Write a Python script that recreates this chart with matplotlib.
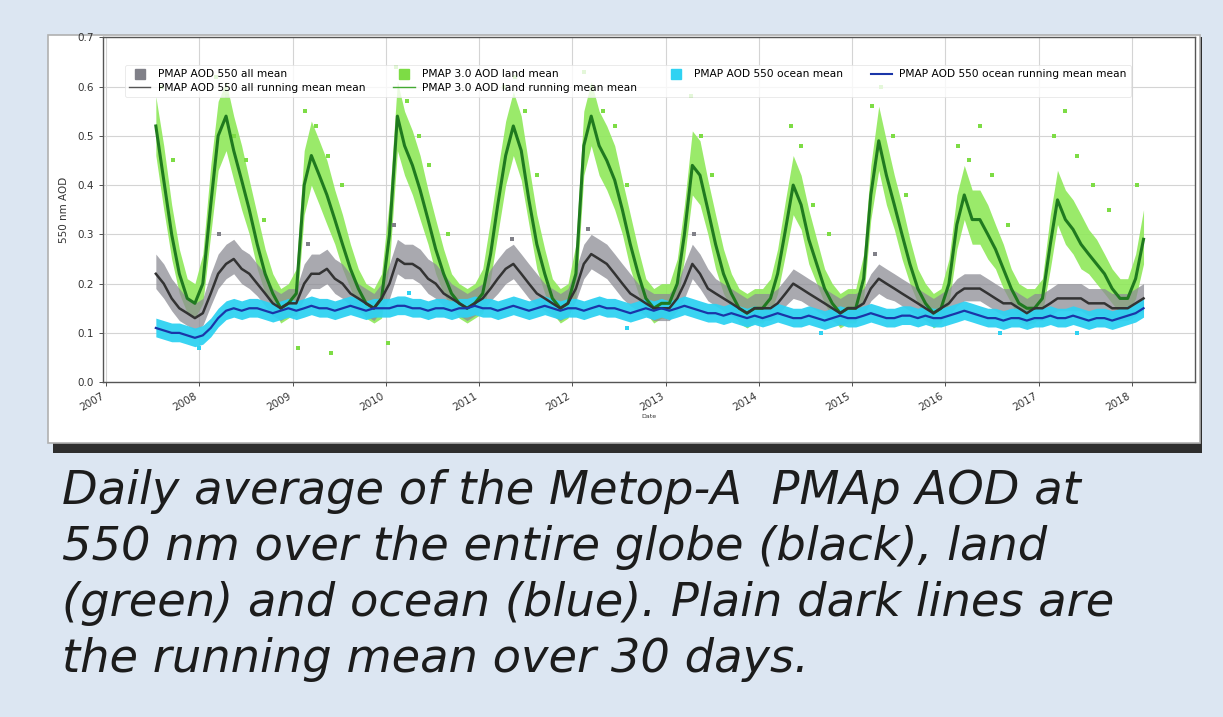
import numpy as np
import pandas as pd
import matplotlib
matplotlib.use("Agg")
import matplotlib.pyplot as plt
import matplotlib.dates as mdates
from matplotlib.patches import Rectangle
from matplotlib.lines import Line2D

# monthly values Jul 2007 .. Feb 2018
months = pd.date_range("2007-07-01", "2018-02-01", freq="MS") + pd.Timedelta(days=14)

land_mean = [0.52, 0.41, 0.30, 0.22, 0.17, 0.16,
             0.20, 0.36, 0.50, 0.54, 0.47, 0.41, 0.35, 0.28, 0.22, 0.18, 0.15, 0.16,
             0.18, 0.40, 0.46, 0.42, 0.38, 0.33, 0.28, 0.23, 0.19, 0.16, 0.15, 0.17,
             0.30, 0.54, 0.48, 0.44, 0.39, 0.33, 0.27, 0.22, 0.18, 0.16, 0.15, 0.16,
             0.18, 0.26, 0.36, 0.46, 0.52, 0.47, 0.37, 0.28, 0.22, 0.17, 0.15, 0.16,
             0.22, 0.48, 0.54, 0.48, 0.45, 0.41, 0.35, 0.28, 0.22, 0.17, 0.15, 0.16,
             0.16, 0.20, 0.30, 0.44, 0.42, 0.35, 0.28, 0.22, 0.18, 0.15, 0.14, 0.15,
             0.15, 0.17, 0.22, 0.31, 0.40, 0.36, 0.29, 0.24, 0.19, 0.16, 0.14, 0.15,
             0.15, 0.21, 0.38, 0.49, 0.42, 0.36, 0.30, 0.24, 0.19, 0.16, 0.14, 0.15,
             0.20, 0.32, 0.38, 0.33, 0.33, 0.30, 0.27, 0.23, 0.19, 0.16, 0.15, 0.15,
             0.17, 0.28, 0.37, 0.33, 0.31, 0.28, 0.26, 0.24, 0.22, 0.19, 0.17, 0.17,
             0.21, 0.29]
land_hi = [0.58, 0.48, 0.36, 0.27, 0.21, 0.20,
           0.26, 0.44, 0.57, 0.61, 0.54, 0.48, 0.41, 0.34, 0.27, 0.22, 0.19, 0.20,
           0.23, 0.47, 0.53, 0.49, 0.45, 0.39, 0.34, 0.28, 0.23, 0.20, 0.19, 0.22,
           0.37, 0.61, 0.55, 0.51, 0.46, 0.39, 0.33, 0.27, 0.22, 0.20, 0.19, 0.20,
           0.23, 0.33, 0.43, 0.53, 0.59, 0.54, 0.44, 0.34, 0.27, 0.21, 0.19, 0.20,
           0.28, 0.55, 0.61, 0.55, 0.52, 0.48, 0.41, 0.34, 0.27, 0.21, 0.19, 0.20,
           0.20, 0.25, 0.36, 0.51, 0.49, 0.41, 0.34, 0.27, 0.22, 0.19, 0.18, 0.19,
           0.19, 0.21, 0.27, 0.37, 0.46, 0.42, 0.35, 0.29, 0.23, 0.20, 0.18, 0.19,
           0.19, 0.26, 0.44, 0.56, 0.49, 0.42, 0.36, 0.29, 0.23, 0.20, 0.18, 0.19,
           0.25, 0.38, 0.44, 0.39, 0.39, 0.36, 0.32, 0.28, 0.23, 0.20, 0.19, 0.19,
           0.21, 0.34, 0.43, 0.39, 0.37, 0.34, 0.31, 0.29, 0.26, 0.23, 0.21, 0.21,
           0.26, 0.35]
land_lo = [0.46, 0.35, 0.25, 0.18, 0.14, 0.13,
           0.16, 0.30, 0.43, 0.47, 0.41, 0.35, 0.30, 0.23, 0.18, 0.15, 0.12, 0.13,
           0.14, 0.34, 0.40, 0.36, 0.32, 0.28, 0.23, 0.19, 0.15, 0.13, 0.12, 0.13,
           0.24, 0.47, 0.42, 0.38, 0.33, 0.28, 0.22, 0.18, 0.15, 0.13, 0.12, 0.13,
           0.14, 0.21, 0.30, 0.40, 0.46, 0.41, 0.32, 0.23, 0.18, 0.14, 0.12, 0.13,
           0.17, 0.42, 0.48, 0.42, 0.39, 0.35, 0.30, 0.23, 0.18, 0.14, 0.12, 0.13,
           0.13, 0.16, 0.25, 0.38, 0.36, 0.30, 0.23, 0.18, 0.15, 0.12, 0.11, 0.12,
           0.12, 0.14, 0.18, 0.26, 0.34, 0.31, 0.24, 0.20, 0.16, 0.13, 0.11, 0.12,
           0.12, 0.17, 0.33, 0.43, 0.36, 0.31, 0.25, 0.20, 0.16, 0.13, 0.11, 0.12,
           0.16, 0.27, 0.33, 0.28, 0.28, 0.25, 0.23, 0.19, 0.16, 0.13, 0.12, 0.12,
           0.14, 0.23, 0.32, 0.28, 0.26, 0.23, 0.22, 0.20, 0.18, 0.16, 0.14, 0.14,
           0.17, 0.24]

all_mean = [0.22, 0.20, 0.17, 0.15, 0.14, 0.13,
            0.14, 0.18, 0.22, 0.24, 0.25, 0.23, 0.22, 0.20, 0.18, 0.16, 0.15, 0.16,
            0.16, 0.20, 0.22, 0.22, 0.23, 0.21, 0.20, 0.18, 0.17, 0.16, 0.15, 0.17,
            0.20, 0.25, 0.24, 0.24, 0.23, 0.21, 0.20, 0.18, 0.17, 0.16, 0.15, 0.16,
            0.17, 0.19, 0.21, 0.23, 0.24, 0.22, 0.20, 0.18, 0.17, 0.16, 0.15, 0.16,
            0.19, 0.24, 0.26, 0.25, 0.24, 0.22, 0.20, 0.18, 0.17, 0.16, 0.15, 0.15,
            0.15, 0.17, 0.20, 0.24, 0.22, 0.19, 0.18, 0.17, 0.16, 0.15, 0.14, 0.15,
            0.15, 0.15, 0.16, 0.18, 0.20, 0.19, 0.18, 0.17, 0.16, 0.15, 0.14, 0.15,
            0.15, 0.16, 0.19, 0.21, 0.20, 0.19, 0.18, 0.17, 0.16, 0.15, 0.14, 0.15,
            0.16, 0.18, 0.19, 0.19, 0.19, 0.18, 0.17, 0.16, 0.16, 0.15, 0.14, 0.15,
            0.15, 0.16, 0.17, 0.17, 0.17, 0.17, 0.16, 0.16, 0.16, 0.15, 0.15, 0.15,
            0.16, 0.17]
all_hi = [0.26, 0.24, 0.21, 0.19, 0.17, 0.16,
          0.17, 0.22, 0.26, 0.28, 0.29, 0.27, 0.26, 0.24, 0.22, 0.19, 0.18, 0.19,
          0.19, 0.24, 0.26, 0.26, 0.27, 0.25, 0.24, 0.22, 0.20, 0.19, 0.18, 0.20,
          0.24, 0.29, 0.28, 0.28, 0.27, 0.25, 0.24, 0.22, 0.20, 0.19, 0.18, 0.19,
          0.20, 0.23, 0.25, 0.27, 0.28, 0.26, 0.24, 0.22, 0.20, 0.19, 0.18, 0.19,
          0.23, 0.28, 0.30, 0.29, 0.28, 0.26, 0.24, 0.22, 0.20, 0.19, 0.18, 0.18,
          0.18, 0.20, 0.24, 0.28, 0.26, 0.23, 0.21, 0.20, 0.19, 0.18, 0.17, 0.18,
          0.18, 0.18, 0.19, 0.21, 0.23, 0.22, 0.21, 0.20, 0.19, 0.18, 0.17, 0.18,
          0.18, 0.19, 0.22, 0.24, 0.23, 0.22, 0.21, 0.20, 0.19, 0.18, 0.17, 0.18,
          0.19, 0.21, 0.22, 0.22, 0.22, 0.21, 0.20, 0.19, 0.19, 0.18, 0.17, 0.18,
          0.18, 0.19, 0.20, 0.20, 0.20, 0.20, 0.19, 0.19, 0.19, 0.18, 0.18, 0.18,
          0.19, 0.20]
all_lo = [0.19, 0.17, 0.145, 0.125, 0.115, 0.105,
          0.115, 0.155, 0.19, 0.21, 0.22, 0.20, 0.19, 0.175, 0.155, 0.135, 0.125, 0.135,
          0.135, 0.17, 0.19, 0.19, 0.20, 0.18, 0.17, 0.155, 0.145, 0.135, 0.125, 0.145,
          0.17, 0.22, 0.21, 0.21, 0.20, 0.18, 0.17, 0.155, 0.145, 0.135, 0.125, 0.135,
          0.145, 0.165, 0.18, 0.20, 0.21, 0.19, 0.17, 0.155, 0.145, 0.135, 0.125, 0.135,
          0.165, 0.21, 0.23, 0.22, 0.21, 0.19, 0.17, 0.155, 0.145, 0.135, 0.125, 0.125,
          0.125, 0.145, 0.17, 0.21, 0.19, 0.165, 0.155, 0.145, 0.135, 0.125, 0.115, 0.125,
          0.125, 0.125, 0.135, 0.155, 0.17, 0.165, 0.155, 0.145, 0.135, 0.125, 0.115, 0.125,
          0.125, 0.135, 0.165, 0.18, 0.17, 0.165, 0.155, 0.145, 0.135, 0.125, 0.115, 0.125,
          0.135, 0.155, 0.165, 0.165, 0.165, 0.155, 0.145, 0.135, 0.135, 0.125, 0.115, 0.125,
          0.125, 0.135, 0.145, 0.145, 0.145, 0.145, 0.135, 0.135, 0.135, 0.125, 0.125, 0.125,
          0.135, 0.145]

ocean_mean = [0.110, 0.105, 0.100, 0.100, 0.095, 0.090,
              0.095, 0.110, 0.130, 0.145, 0.150, 0.145, 0.150, 0.150, 0.145, 0.140, 0.145, 0.150,
              0.145, 0.150, 0.155, 0.150, 0.150, 0.145, 0.150, 0.155, 0.150, 0.145, 0.150, 0.150,
              0.150, 0.155, 0.155, 0.150, 0.150, 0.145, 0.150, 0.150, 0.145, 0.150, 0.150, 0.155,
              0.150, 0.150, 0.145, 0.150, 0.155, 0.150, 0.145, 0.150, 0.155, 0.150, 0.145, 0.150,
              0.150, 0.145, 0.150, 0.155, 0.150, 0.150, 0.145, 0.140, 0.145, 0.150, 0.145, 0.150,
              0.145, 0.150, 0.155, 0.150, 0.145, 0.140, 0.140, 0.135, 0.140, 0.135, 0.130, 0.135,
              0.130, 0.135, 0.140, 0.135, 0.130, 0.130, 0.135, 0.130, 0.125, 0.130, 0.135, 0.130,
              0.130, 0.135, 0.140, 0.135, 0.130, 0.130, 0.135, 0.135, 0.130, 0.135, 0.130, 0.130,
              0.135, 0.140, 0.145, 0.140, 0.135, 0.130, 0.130, 0.125, 0.130, 0.130, 0.125, 0.130,
              0.130, 0.135, 0.130, 0.130, 0.135, 0.130, 0.125, 0.130, 0.130, 0.125, 0.130, 0.135,
              0.140, 0.150]
ocean_hi = [0.13, 0.125, 0.12, 0.12, 0.115, 0.11,
            0.115, 0.13, 0.15, 0.165, 0.17, 0.165, 0.17, 0.17, 0.165, 0.16, 0.165, 0.17,
            0.165, 0.17, 0.175, 0.17, 0.17, 0.165, 0.17, 0.175, 0.17, 0.165, 0.17, 0.17,
            0.17, 0.175, 0.175, 0.17, 0.17, 0.165, 0.17, 0.17, 0.165, 0.17, 0.17, 0.175,
            0.17, 0.17, 0.165, 0.17, 0.175, 0.17, 0.165, 0.17, 0.175, 0.17, 0.165, 0.17,
            0.17, 0.165, 0.17, 0.175, 0.17, 0.17, 0.165, 0.16, 0.165, 0.17, 0.165, 0.17,
            0.165, 0.17, 0.175, 0.17, 0.165, 0.16, 0.16, 0.155, 0.16, 0.155, 0.15, 0.155,
            0.15, 0.155, 0.16, 0.155, 0.15, 0.15, 0.155, 0.15, 0.145, 0.15, 0.155, 0.15,
            0.15, 0.155, 0.16, 0.155, 0.15, 0.15, 0.155, 0.155, 0.15, 0.155, 0.15, 0.15,
            0.155, 0.16, 0.165, 0.16, 0.155, 0.15, 0.15, 0.145, 0.15, 0.15, 0.145, 0.15,
            0.15, 0.155, 0.15, 0.15, 0.155, 0.15, 0.145, 0.15, 0.15, 0.145, 0.15, 0.155,
            0.16, 0.17]
ocean_lo = [0.092, 0.087, 0.082, 0.082, 0.077, 0.072,
            0.077, 0.092, 0.112, 0.127, 0.132, 0.127, 0.132, 0.132, 0.127, 0.122, 0.127, 0.132,
            0.127, 0.132, 0.137, 0.132, 0.132, 0.127, 0.132, 0.137, 0.132, 0.127, 0.132, 0.132,
            0.132, 0.137, 0.137, 0.132, 0.132, 0.127, 0.132, 0.132, 0.127, 0.132, 0.132, 0.137,
            0.132, 0.132, 0.127, 0.132, 0.137, 0.132, 0.127, 0.132, 0.137, 0.132, 0.127, 0.132,
            0.132, 0.127, 0.132, 0.137, 0.132, 0.132, 0.127, 0.122, 0.127, 0.132, 0.127, 0.132,
            0.127, 0.132, 0.137, 0.132, 0.127, 0.122, 0.122, 0.117, 0.122, 0.117, 0.112, 0.117,
            0.112, 0.117, 0.122, 0.117, 0.112, 0.112, 0.117, 0.112, 0.107, 0.112, 0.117, 0.112,
            0.112, 0.117, 0.122, 0.117, 0.112, 0.112, 0.117, 0.117, 0.112, 0.117, 0.112, 0.112,
            0.117, 0.122, 0.127, 0.122, 0.117, 0.112, 0.112, 0.107, 0.112, 0.112, 0.107, 0.112,
            0.112, 0.117, 0.112, 0.112, 0.117, 0.112, 0.107, 0.112, 0.112, 0.107, 0.112, 0.117,
            0.122, 0.132]

# scattered single days outside the dense clouds
land_pt_dates = ["2007-08-10", "2007-09-20", "2008-03-05", "2008-04-20", "2008-05-15", "2008-07-01",
                 "2008-09-10", "2009-02-20", "2009-04-01", "2009-05-20", "2009-07-15", "2010-02-10",
                 "2010-03-25", "2010-05-10", "2010-06-20", "2010-09-01", "2011-04-10", "2011-05-20",
                 "2011-06-30", "2011-08-15", "2012-02-15", "2012-03-20", "2012-05-01", "2012-06-15",
                 "2012-08-01", "2013-04-10", "2013-05-20", "2013-07-01", "2014-05-05", "2014-06-15",
                 "2014-08-01", "2014-10-01", "2015-03-20", "2015-04-25", "2015-06-10", "2015-08-01",
                 "2016-02-20", "2016-04-01", "2016-05-15", "2016-07-01", "2016-09-01", "2017-03-01",
                 "2017-04-15", "2017-06-01", "2017-08-01", "2017-10-01", "2018-01-20", "2009-01-20",
                 "2009-06-01", "2010-01-10"]
land_pt_vals = [0.60, 0.45, 0.62, 0.58, 0.50, 0.45, 0.33, 0.55, 0.52, 0.46, 0.40, 0.64,
                0.57, 0.50, 0.44, 0.30, 0.60, 0.62, 0.55, 0.42, 0.63, 0.60, 0.55, 0.52,
                0.40, 0.58, 0.50, 0.42, 0.52, 0.48, 0.36, 0.30, 0.56, 0.60, 0.50, 0.38,
                0.48, 0.45, 0.52, 0.42, 0.32, 0.50, 0.55, 0.46, 0.40, 0.35, 0.40, 0.07,
                0.06, 0.08]
all_pt_dates = ["2008-03-20", "2010-02-01", "2012-03-01", "2013-04-20", "2009-03-01", "2011-05-10", "2015-04-01"]
all_pt_vals = [0.30, 0.32, 0.31, 0.30, 0.28, 0.29, 0.26]
ocean_pt_dates = ["2008-01-01", "2012-08-01", "2014-09-01", "2016-08-01", "2010-04-01", "2017-06-01"]
ocean_pt_vals = [0.07, 0.11, 0.10, 0.10, 0.18, 0.10]

labels = ["PMAP AOD 550 all mean", "PMAP AOD 550 all running mean mean",
          "PMAP 3.0 AOD land mean", "PMAP 3.0 AOD land running mean mean",
          "PMAP AOD 550 ocean mean", "PMAP AOD 550 ocean running mean mean"]

caption = ["Daily average of the Metop-A  PMAp AOD at",
           "550 nm over the entire globe (black), land",
           "(green) and ocean (blue). Plain dark lines are",
           "the running mean over 30 days."]
# widths (px) of the first three caption lines in the picture
caption_widths = [1043, 973, 1038]

fig = plt.figure(figsize=(12.23, 7.17), dpi=100, facecolor="#dce6f2")

# white panel with dark drop shadow underneath
fig.add_artist(Rectangle((0.043, 0.368), 0.940, 0.580, transform=fig.transFigure,
                         facecolor="#2e2e2e", edgecolor="none", zorder=-3))
fig.add_artist(Rectangle((0.039, 0.382), 0.942, 0.569, transform=fig.transFigure,
                         facecolor="white", edgecolor="#b0b0b0", lw=1.2, zorder=-2))

ax = fig.add_axes([0.0842, 0.467, 0.893, 0.481])
ax.set_facecolor("white")

pt = pd.to_datetime
ax.fill_between(months, land_lo, land_hi, color="#8fe85a", alpha=0.9, lw=0, zorder=2)
ax.scatter(pt(land_pt_dates), land_pt_vals, s=5, marker="s", color="#7ddc45", lw=0, zorder=2)
ax.fill_between(months, all_lo, all_hi, color="#8c8c94", alpha=0.75, lw=0, zorder=3)
ax.scatter(pt(all_pt_dates), all_pt_vals, s=5, marker="s", color="#808088", lw=0, zorder=3)
ax.fill_between(months, ocean_lo, ocean_hi, color="#2fd2f2", alpha=0.95, lw=0, zorder=4)
ax.scatter(pt(ocean_pt_dates), ocean_pt_vals, s=5, marker="s", color="#2fd2f2", lw=0, zorder=4)

ax.plot(months, land_mean, color="#1f7a1f", lw=2.2, zorder=5)
ax.plot(months, all_mean, color="#333333", lw=1.8, zorder=6)
ax.plot(months, ocean_mean, color="#1a35a8", lw=1.6, zorder=7)

sq = dict(marker="s", lw=0, markersize=7)
handles = [Line2D([], [], color="#808088", **sq), Line2D([], [], color="#555555", lw=1),
           Line2D([], [], color="#7ddc45", **sq), Line2D([], [], color="#44aa33", lw=1),
           Line2D([], [], color="#2fd2f2", **sq), Line2D([], [], color="#1a35a8", lw=1.5)]
leg = ax.legend(handles, labels, ncol=4, loc="upper left", bbox_to_anchor=(0.015, 0.935),
                fontsize=7.7, frameon=True, columnspacing=2.6, handlelength=2.0,
                handletextpad=0.7, borderpad=0.4, labelspacing=0.35)
leg.get_frame().set_edgecolor("#e2e2e2")
leg.get_frame().set_linewidth(0.6)
leg.set_zorder(10)

ax.set_xlim(pd.Timestamp("2006-12-20"), pd.Timestamp("2018-09-05"))
ax.set_ylim(0.0, 0.7)
ax.set_yticks(np.arange(0, 0.71, 0.1))
ax.yaxis.set_major_formatter(plt.FuncFormatter(lambda v, p: f"{v:.1f}"))
ax.xaxis.set_major_locator(mdates.YearLocator())
ax.xaxis.set_major_formatter(mdates.DateFormatter("%Y"))
for lab in ax.get_xticklabels():
    lab.set_rotation(30)
    lab.set_ha("right")
ax.tick_params(labelsize=7.5, colors="#333333", length=3, width=0.6)
ax.grid(True, color="#d4d4d4", lw=0.8)
ax.set_axisbelow(True)
for s in ax.spines.values():
    s.set_color("#555555")
    s.set_linewidth(1.0)
ax.set_ylabel("550 nm AOD", fontsize=7.5, color="#333333", labelpad=6)
ax.set_xlabel("Date", fontsize=4.5, color="#333333", labelpad=1)

# caption: size the text so the lines span about the same width as in the picture
texts = []
for i, line in enumerate(caption):
    texts.append(fig.text(0.051, 1 - (504 + 56 * i) / 717, line, fontsize=30, style="oblique",
                          family="DejaVu Sans", color="#1c1c1c",
                          va="baseline", ha="left"))
renderer = fig.canvas.get_renderer()
w = sum(t.get_window_extent(renderer).width for t in texts[:3])
fs = 30 * sum(caption_widths) / w
for t in texts:
    t.set_fontsize(fs)

fig.savefig("out.png", dpi=100, facecolor=fig.get_facecolor())
